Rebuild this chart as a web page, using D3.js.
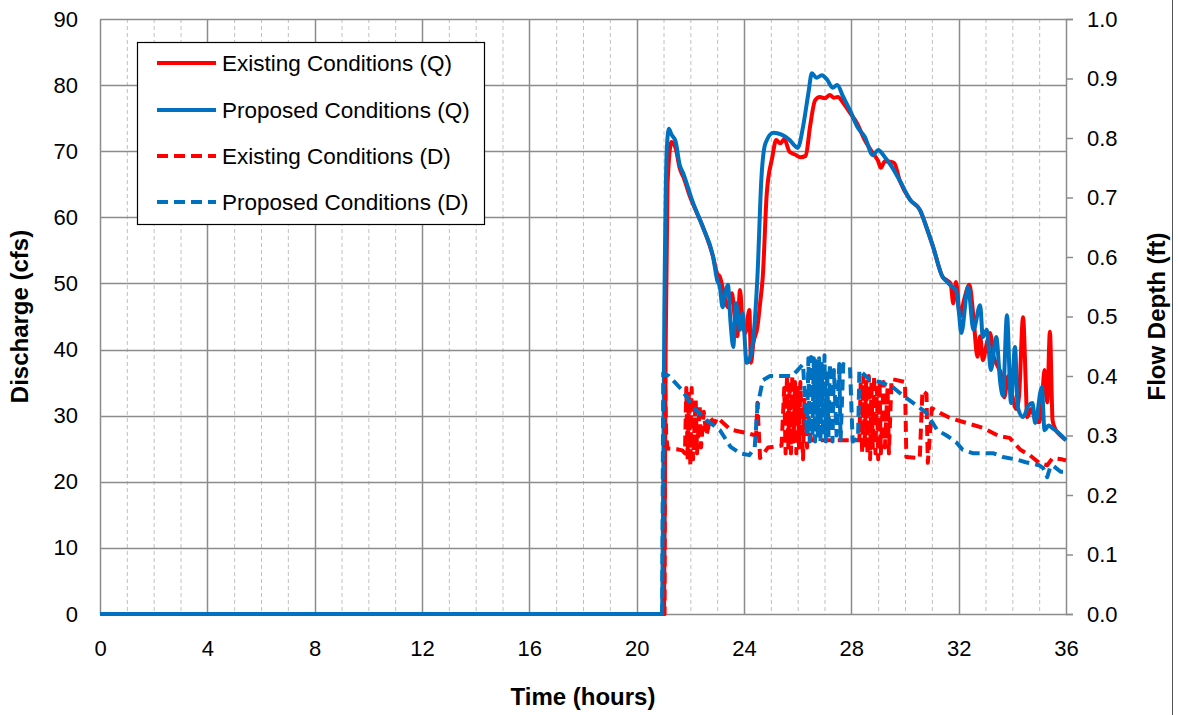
<!DOCTYPE html>
<html><head><meta charset="utf-8">
<script src="https://cdn.jsdelivr.net/npm/d3@7"></script>
<style>body{margin:0;background:#fff}svg{display:block}text{font-family:"Liberation Sans",Arial,sans-serif}</style>
</head><body>
<svg id="c" width="1178" height="715"></svg>
<script>
// ---- data ----
const xTicks = [0,4,8,12,16,20,24,28,32,36];
const yTicksQ = [0,10,20,30,40,50,60,70,80,90];
const yTicksD = ["0.0","0.1","0.2","0.3","0.4","0.5","0.6","0.7","0.8","0.9","1.0"];
const seriesNames = ["Existing Conditions (Q)","Proposed Conditions (Q)","Existing Conditions (D)","Proposed Conditions (D)"];

const existingQ = [[0,0],[21.02,0],[21.08,40],[21.15,65],[21.3,71.4],[21.45,70.5],[21.6,67.5],[21.75,66],[22.0,63],[22.1,62],[22.47,58.5],[22.85,54],[23.0,51.5],[23.1,51],[23.25,48.5],[23.4,46.4],[23.55,48.5],[23.65,45],[23.75,42],[23.85,49],[23.95,44],[24.05,42.5],[24.2,46],[24.26,38],[24.35,41],[24.5,43.4],[24.6,47],[24.7,51],[24.85,63.7],[25.05,69],[25.2,71.7],[25.35,71.2],[25.5,71.8],[25.7,69.9],[25.9,69.5],[26.1,69.1],[26.3,69.3],[26.46,73.7],[26.65,77.7],[26.83,78.2],[27.0,78],[27.2,78.5],[27.35,78.1],[27.5,78.2],[27.7,77.3],[27.95,75.8],[28.2,74.3],[28.5,71.7],[28.8,69.7],[29.0,68.5],[29.1,67.5],[29.25,68.5],[29.45,68.4],[29.6,68.2],[29.8,65.6],[30.2,62.6],[30.56,61.1],[30.8,58.5],[31.05,55.5],[31.4,51],[31.55,50.5],[31.7,50],[31.8,47],[31.9,50.2],[32.05,45],[32.2,47.5],[32.4,49.8],[32.55,45],[32.7,38.9],[32.8,42],[32.9,38.4],[33.05,41],[33.17,42.5],[33.3,39],[33.45,37.5],[33.6,36],[33.7,32.8],[33.85,36],[34.0,33],[34.15,31],[34.25,33],[34.4,44.9],[34.5,35],[34.55,29.8],[34.7,31],[34.85,29.5],[35.0,29],[35.1,32],[35.2,36.9],[35.3,32],[35.4,42.7],[35.5,29.3],[35.6,28],[35.8,27],[36,26.3]];

const proposedQ = [[0,0],[20.95,0],[21.03,45],[21.12,70],[21.2,73.4],[21.3,72.5],[21.45,71.5],[21.6,68],[21.73,66.7],[22.1,62.2],[22.47,58.5],[22.85,54],[23.0,50.5],[23.1,49.5],[23.2,46.4],[23.3,48.5],[23.4,49.8],[23.5,44],[23.6,40.4],[23.7,47],[23.85,43],[23.95,45.5],[24.1,38],[24.2,38.5],[24.34,41.4],[24.5,51],[24.65,66],[24.8,71.2],[25.1,72.8],[25.4,72.5],[25.7,71.7],[25.85,71],[26.0,70.5],[26.2,73.7],[26.4,78.8],[26.53,81.8],[26.7,81.1],[26.9,81.5],[27.1,80.8],[27.3,79.6],[27.47,80],[27.7,78.2],[27.95,76.2],[28.25,73.5],[28.5,72.2],[28.8,69.4],[29.0,70.2],[29.25,69.1],[29.45,68],[29.8,65.6],[30.2,62.6],[30.56,61.1],[30.8,58.5],[31.05,55.5],[31.4,51],[31.55,50.3],[31.75,49.5],[31.9,49],[32.0,46],[32.1,42.5],[32.35,49.5],[32.55,43],[32.8,46.7],[32.9,41.9],[33.05,43],[33.2,36.9],[33.4,41.9],[33.55,35],[33.65,33],[33.8,45.2],[33.95,31.9],[34.1,40.4],[34.2,31.3],[34.4,29.8],[34.6,31.5],[34.75,31.9],[34.85,28.9],[35.1,34.3],[35.2,27.8],[35.35,28.5],[35.5,28.1],[35.7,27.5],[36,26.3]];

const existingD = [[0,0],[21.04,0],[21.06,0.40],[21.1,0.30],[21.15,0.278],[21.5,0.277],[21.7,0.275],[21.8,0.27],[21.85,0.38],[21.9,0.26],[21.95,0.37],[22.0,0.25],[22.05,0.38],[22.1,0.26],[22.2,0.36],[22.25,0.27],[22.35,0.35],[22.4,0.28],[22.5,0.34],[22.6,0.30],[22.75,0.33],[22.9,0.32],[23.0,0.33],[23.5,0.31],[24.0,0.305],[24.45,0.30],[24.5,0.355],[24.6,0.262],[24.9,0.28],[25.4,0.283],[25.5,0.38],[25.55,0.27],[25.6,0.40],[25.65,0.28],[25.7,0.39],[25.75,0.27],[25.8,0.40],[25.85,0.29],[25.9,0.39],[25.95,0.27],[26.0,0.38],[26.05,0.28],[26.1,0.39],[26.2,0.26],[26.25,0.36],[26.35,0.28],[26.4,0.33],[26.5,0.292],[28.3,0.292],[28.35,0.39],[28.4,0.27],[28.45,0.40],[28.5,0.28],[28.55,0.39],[28.6,0.27],[28.65,0.40],[28.7,0.26],[28.75,0.39],[28.8,0.28],[28.85,0.40],[28.9,0.27],[28.95,0.38],[29.0,0.26],[29.05,0.39],[29.1,0.27],[29.2,0.39],[29.25,0.28],[29.35,0.38],[29.4,0.27],[29.5,0.395],[30.0,0.39],[30.05,0.264],[30.55,0.262],[30.65,0.375],[30.8,0.37],[30.85,0.254],[31.0,0.346],[31.3,0.338],[31.7,0.329],[32.3,0.321],[32.9,0.313],[33.5,0.299],[33.9,0.296],[34.3,0.276],[34.65,0.267],[35.0,0.254],[35.3,0.25],[35.5,0.262],[35.85,0.26],[36,0.258]];

const proposedD = [[0,0],[20.95,0],[20.99,0.405],[21.2,0.40],[21.7,0.376],[22.1,0.348],[22.6,0.326],[23.1,0.309],[23.5,0.281],[23.85,0.27],[24.2,0.267],[24.4,0.28],[24.5,0.348],[24.7,0.393],[24.97,0.40],[25.8,0.40],[26.0,0.41],[26.2,0.42],[26.35,0.30],[26.4,0.43],[26.45,0.29],[26.5,0.432],[26.55,0.30],[26.6,0.43],[26.65,0.29],[26.7,0.425],[26.75,0.30],[26.8,0.43],[26.85,0.29],[26.9,0.42],[26.95,0.30],[27.0,0.435],[27.05,0.29],[27.1,0.41],[27.15,0.30],[27.2,0.42],[27.3,0.29],[27.35,0.41],[27.45,0.30],[27.55,0.42],[27.6,0.292],[27.7,0.42],[27.95,0.415],[28.05,0.29],[28.25,0.295],[28.3,0.41],[28.7,0.393],[29.06,0.39],[29.55,0.381],[29.9,0.368],[30.3,0.355],[30.8,0.338],[31.2,0.309],[31.55,0.30],[31.9,0.289],[32.15,0.276],[32.55,0.27],[33.3,0.27],[33.65,0.264],[34.2,0.259],[34.5,0.255],[35.0,0.25],[35.15,0.245],[35.3,0.23],[35.4,0.245],[35.5,0.25],[35.8,0.239],[36,0.239]];

// ---- layout ----
const svg = d3.select("#c");
const L = 100, R = 1066, T = 19, B = 614;
const x = d3.scaleLinear().domain([0,36]).range([L,R]);
const yQ = d3.scaleLinear().domain([0,90]).range([B,T]);
const yD = d3.scaleLinear().domain([0,1]).range([B,T]);
const gridMajor = "#8c8c8c", gridMinor = "#c0c0c0";
const red = "#ff0000", blue = "#0070c0";

// minor vertical gridlines (each hour)
const g = svg.append("g");
g.selectAll(".vmin").data(d3.range(1,36).filter(h=>h%4!==0)).join("line")
  .attr("x1",d=>x(d)+0.5).attr("x2",d=>x(d)+0.5).attr("y1",T).attr("y2",B)
  .attr("stroke",gridMinor).attr("stroke-width",1).attr("stroke-dasharray","4,3");
g.selectAll(".vmaj").data(xTicks.slice(1,-1)).join("line")
  .attr("x1",d=>Math.round(x(d))+0.5).attr("x2",d=>Math.round(x(d))+0.5).attr("y1",T).attr("y2",B)
  .attr("stroke",gridMajor).attr("stroke-width",1.5);
g.selectAll(".hmaj").data(yTicksQ.slice(1)).join("line")
  .attr("x1",L).attr("x2",R).attr("y1",d=>Math.round(yQ(d))+0.5).attr("y2",d=>Math.round(yQ(d))+0.5)
  .attr("stroke",gridMajor).attr("stroke-width",1.5);

// axes
const axL = d3.axisLeft(yQ).tickValues(yTicksQ).tickSize(0).tickPadding(22);
const axB = d3.axisBottom(x).tickValues(xTicks).tickSize(0).tickPadding(26);
const axR = d3.axisRight(yD).tickValues(yTicksD.map(Number)).tickSize(7).tickPadding(14).tickFormat(d3.format(".1f"));
function style(sel){
  sel.select(".domain").attr("stroke",gridMajor).attr("stroke-width",1.5);
  sel.selectAll(".tick line").attr("stroke",gridMajor).attr("stroke-width",1.5);
  sel.selectAll("text").attr("font-size",22).attr("fill","#000").attr("font-family","Liberation Sans, Arial, sans-serif");
}
svg.append("g").attr("transform",`translate(${L},0)`).call(axL).call(style);
svg.append("g").attr("transform",`translate(0,${B})`).call(axB).call(style);
svg.append("g").attr("transform",`translate(${R},0)`).call(axR).call(style);

// lines
const lineQ = d3.line().x(d=>x(d[0])).y(d=>yQ(d[1])).curve(d3.curveMonotoneX);
const lineD = d3.line().x(d=>x(d[0])).y(d=>yD(d[1]));
const dash = "11,6";
const specs = [
  {data:existingQ, gen:lineQ, color:red, dash:null},
  {data:proposedQ, gen:lineQ, color:blue, dash:null},
  {data:existingD, gen:lineD, color:red, dash:dash},
  {data:proposedD, gen:lineD, color:blue, dash:dash}
];
const plot = svg.append("g");
specs.forEach(s=>{
  plot.append("path").attr("d",s.gen(s.data)).attr("fill","none")
    .attr("stroke",s.color).attr("stroke-width",4).attr("stroke-linejoin","round")
    .attr("stroke-dasharray",s.dash);
});

// titles
svg.append("text").attr("x",(L+R)/2).attr("y",705).attr("text-anchor","middle")
  .attr("font-size",24).attr("font-weight","bold").text("Time (hours)");
svg.append("text").attr("transform",`translate(28,${(T+B)/2}) rotate(-90)`).attr("text-anchor","middle")
  .attr("font-size",24).attr("font-weight","bold").text("Discharge (cfs)");
svg.append("text").attr("transform",`translate(1165,${(T+B)/2}) rotate(-90)`).attr("text-anchor","middle")
  .attr("font-size",24).attr("font-weight","bold").text("Flow Depth (ft)");

// legend
const lg = svg.append("g");
lg.append("rect").attr("x",137.5).attr("y",42.5).attr("width",347).attr("height",182)
  .attr("fill","#fff").attr("stroke","#000").attr("stroke-width",1.2);
const rowsY = [63,110,156,202];
specs.forEach((s,i)=>{
  lg.append("line").attr("x1",157).attr("x2",216).attr("y1",rowsY[i]).attr("y2",rowsY[i])
    .attr("stroke",s.color).attr("stroke-width",4).attr("stroke-dasharray",s.dash);
  lg.append("text").attr("x",222).attr("y",rowsY[i]+8).attr("font-size",22.5).text(seriesNames[i]);
});

// outer frame edge
svg.append("line").attr("x1",1172.5).attr("x2",1172.5).attr("y1",0).attr("y2",715).attr("stroke","#555").attr("stroke-width",1);
</script>
</body></html>
